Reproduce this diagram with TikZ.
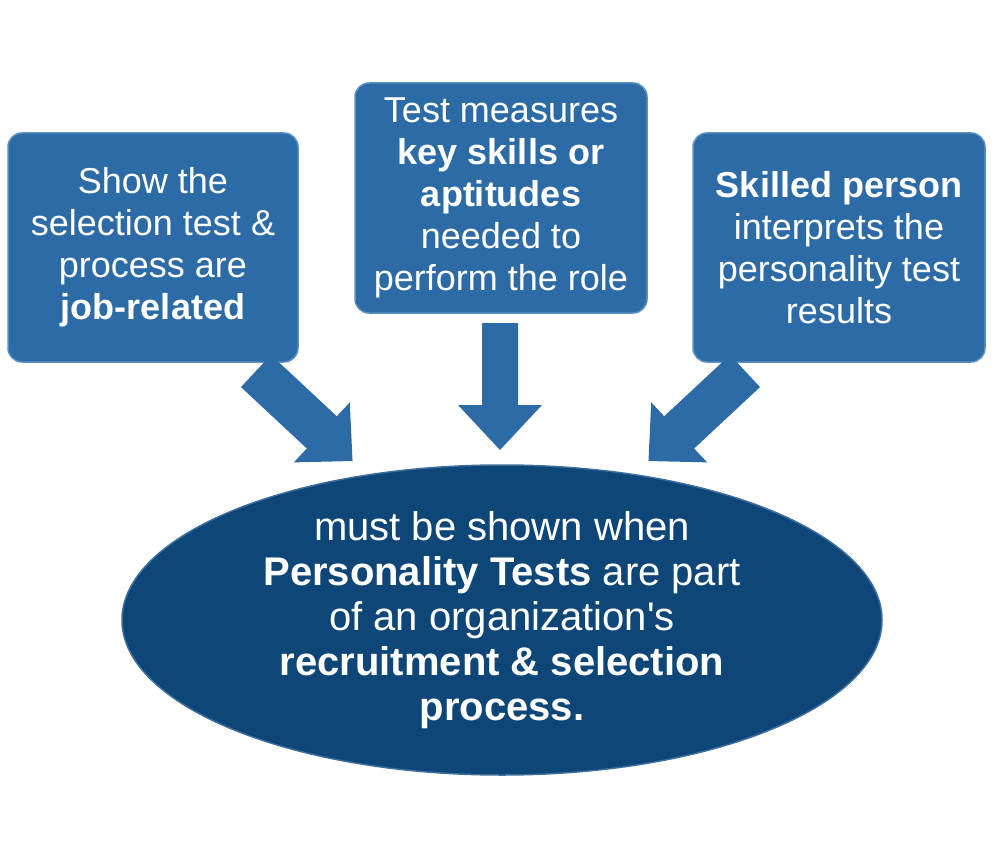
\documentclass[tikz,border=0pt]{standalone}
\usepackage{fontspec}
\setmainfont{Liberation Sans}
\usetikzlibrary{shapes.geometric}
\definecolor{boxc}{HTML}{2C6BA6}
\definecolor{boxe}{HTML}{5A8FC4}
\definecolor{ellc}{HTML}{0E4777}
\definecolor{elle}{HTML}{3D6E9E}
\begin{document}
\begin{tikzpicture}[x=1pt,y=-1pt,
  box/.style={draw=boxe,line width=1.5pt,fill=boxc,rounded corners=14pt,text=white,align=center,font=\fontsize{36}{42}\selectfont,inner sep=0pt},
  arr/.style={fill=boxc,draw=none}]
\useasboundingbox (0,0) rectangle (1000,858);
\node[box,minimum width=290,minimum height=229] (l) at (153,247.5) {Show the\\selection test \&\\process are\\\textbf{job-related}};
\node[box,minimum width=292,minimum height=230] (m) at (501,198) {Test measures\\\textbf{key skills or}\\\textbf{aptitudes}\\needed to\\perform the role};
\node[box,minimum width=292,minimum height=229] (r) at (839,247.5) {\textbf{Skilled person}\\interprets the\\personality test\\results};
\node[ellipse,draw=elle,line width=1.5pt,fill=ellc,minimum width=760,minimum height=310,inner sep=0pt,text=white,align=center,font=\fontsize{40}{45}\selectfont] (e) at (502,620) {must be shown when\\\textbf{Personality Tests} are part\\of an organization\textquotesingle s\\\textbf{recruitment \& selection}\\\textbf{process.}};
\foreach \tx/\ty/\ang/\L/\w/\h/\hl in {256/371/-43/132/22/41/42, 500/323/-90/127/18/42/45, 745/371/-137/132/22/41/42}{
  \begin{scope}[shift={(\tx,\ty)},rotate=\ang]
  \fill[arr] (0,-\w) -- ({\L-\hl},-\w) -- ({\L-\hl},-\h) -- (\L,0) -- ({\L-\hl},\h) -- ({\L-\hl},\w) -- (0,\w) -- cycle;
  \end{scope}}
\end{tikzpicture}
\end{document}
